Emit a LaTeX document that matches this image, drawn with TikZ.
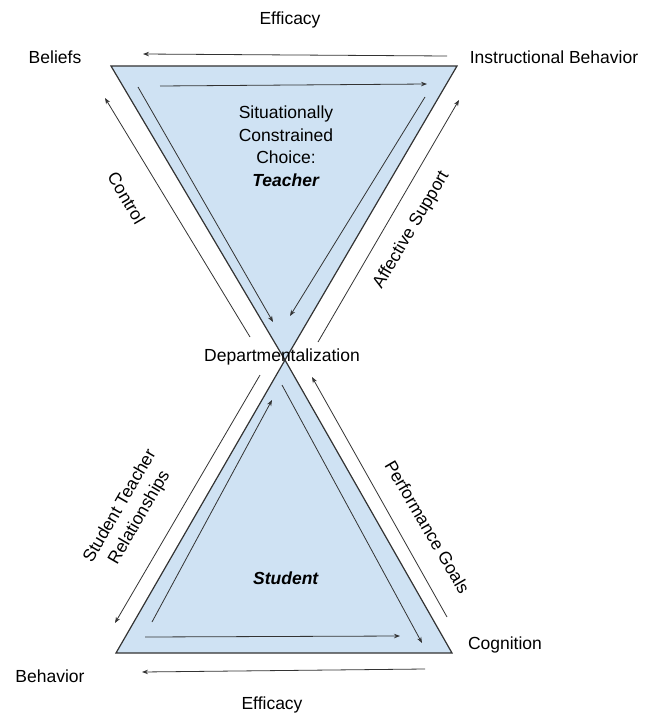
\documentclass[tikz,border=0pt]{standalone}
\usepackage{fontspec}
\setmainfont{Liberation Sans}
\usetikzlibrary{arrows.meta}
\definecolor{triblue}{HTML}{CFE2F3}
\definecolor{ink}{HTML}{333333}
\begin{document}
\begin{tikzpicture}[x=1pt,y=-1pt,
  trishape/.style={fill=triblue, draw=ink, line width=1.2pt, line join=miter},
  arr/.style={draw=ink, line width=0.8pt, -{Stealth[length=6pt,width=4.5pt]}},
  lbl/.style={font=\fontsize{17.5}{22.5}\selectfont, inner sep=0pt, text=black}]
\useasboundingbox (0,0) rectangle (651,717);
% vertices
\coordinate (A) at (111,66);
\coordinate (B) at (457,66);
\coordinate (C) at (285,360);
\coordinate (D) at (116,653);
\coordinate (E) at (452,653);
\filldraw[trishape] (A) -- (B) -- (C) -- cycle;
\filldraw[trishape] (C) -- (D) -- (E) -- cycle;
% arrow end points
\coordinate (ti1) at (160,86);   \coordinate (ti2) at (427,84);
\coordinate (tl1) at (138,87);   \coordinate (tl2) at (273,322);
\coordinate (tr1) at (425,97);   \coordinate (tr2) at (290,316);
\coordinate (te1) at (447,56);   \coordinate (te2) at (143,54);
\coordinate (co1) at (250,337);  \coordinate (co2) at (105,98);
\coordinate (af1) at (318,342);  \coordinate (af2) at (459,100);
\coordinate (st1) at (260,375);  \coordinate (st2) at (115,623);
\coordinate (pg1) at (447,617);  \coordinate (pg2) at (312,377);
\coordinate (bl1) at (152,622);  \coordinate (bl2) at (272,400);
\coordinate (br1) at (282,385);  \coordinate (br2) at (422,643);
\coordinate (bi1) at (145,637);  \coordinate (bi2) at (400,636);
\coordinate (be1) at (425,669);  \coordinate (be2) at (142,672);
\draw[arr] (ti1) -- (ti2);
\draw[arr] (tl1) -- (tl2);
\draw[arr] (tr1) -- (tr2);
\draw[arr] (te1) -- (te2);
\draw[arr] (co1) -- (co2);
\draw[arr] (af1) -- (af2);
\draw[arr] (st1) -- (st2);
\draw[arr] (pg1) -- (pg2);
\draw[arr] (bl1) -- (bl2);
\draw[arr] (br1) -- (br2);
\draw[arr] (bi1) -- (bi2);
\draw[arr] (be1) -- (be2);
% labels
\node[lbl] (efftop) at (290,20) {Efficacy};
\node[lbl] (beliefs) at (55,57) {Beliefs};
\node[lbl] (instr) at (554,57) {Instructional Behavior};
\node[lbl, align=center] (teacher) at (286,146) {Situationally\\Constrained\\Choice:\\\textbf{\textit{Teacher}}};
\node[lbl, rotate=-59.4] (control) at (126.5,198) {Control};
\node[lbl, rotate=59.5] (affect) at (411.5,230) {Affective Support};
\node[lbl] (dept) at (282,357) {Departmentalization};
\node[lbl, rotate=59.8, align=center] (stud) at (130,512) {Student Teacher\\Relationships};
\node[lbl, rotate=-59.7] (perf) at (427.5,527) {Performance Goals};
\node[lbl] (student) at (286,578) {\textbf{\textit{Student}}};
\node[lbl] (behav) at (50,676) {Behavior};
\node[lbl] (cogn) at (505,645) {Cognition};
\node[lbl] (effbot) at (272,705) {Efficacy};
\end{tikzpicture}
\end{document}
